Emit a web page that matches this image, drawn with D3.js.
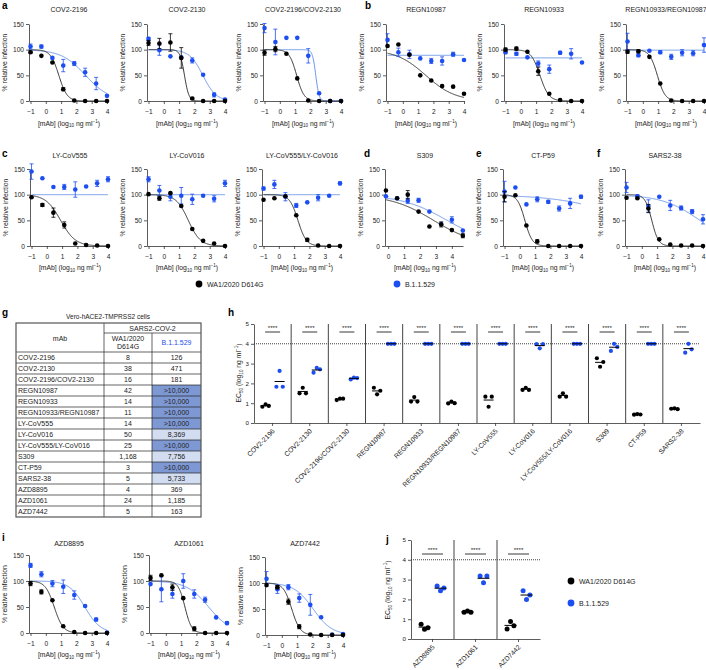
<!DOCTYPE html>
<html><head><meta charset="utf-8">
<script src="https://cdn.jsdelivr.net/npm/d3@7"></script>
<style>body{margin:0;background:#fff}svg{display:block}</style>
</head><body><svg id="c" width="706" height="670"></svg>
<script>
// ---------------- DATA ----------------
const doseX = [-1, -0.29, 0.43, 1.14, 1.86, 2.57, 3.29, 4];
const doseXS309 = [-0.14, 0.56, 1.23, 1.91, 2.59, 3.33, 4.0, 4.69];
const curvePanels = ["COV2-2196","COV2-2130","COV2-2196/COV2-2130","REGN10987","REGN10933","REGN10933/REGN10987",
  "LY-CoV555","LY-CoV016","LY-CoV555/LY-CoV016","S309","CT-P59","SARS2-38","AZD8895","AZD1061","AZD7442"];
const waValues = [
  [95,88,75,23,1,0,0,0],[113,112,114,84,5,0,0,0],[94,101,92,44,1,0,0,0],
  [107,110,90,50,40,29,28,14],[100,102,96,58,14,2,0,0],[96,97,86,34,1,0,0,0],
  [95,80,65,41,5,2,1,0],[101,93,103,78,33,10,5,0],[90,93,97,60,12,1,0,0],
  [108,93,100,67,38,42,31,20],[96,99,40,9,0,0,0,0],[94,93,73,13,3,1,1,0],
  [95,79,63,13,2,0,0,0],[106,111,88,67,8,0,0,0],[96,92,64,16,1,0,0,0]];
const waErrors = [
  [2,0,0,3,0,0,0,0],[5,10,17,20,2,0,0,0],[5,5,0,0,0,0,0,0],
  [0,0,0,0,0,0,0,0],[3,3,0,8,0,0,0,0],[3,3,0,0,0,0,0,0],
  [0,3,9,6,0,0,0,0],[0,4,0,0,0,0,0,0],[0,0,0,0,3,0,0,0],
  [0,0,8,0,0,5,0,4],[10,0,0,3,0,0,0,0],[0,0,8,0,0,0,0,0],
  [4,4,0,0,0,0,0,0],[5,0,6,0,4,0,0,0],[0,3,5,4,0,0,0,0]];
const omValues = [
  [106,106,84,69,73,56,34,10],[121,99,87,85,79,51,12,3],[142,115,123,123,88,15,0,0],
  [119,95,91,83,78,78,91,80],[95,92,85,73,62,94,92,75],[116,89,98,95,86,94,93,109],
  [145,132,115,115,110,116,122,130],[130,108,96,98,91,98,92,122],[112,120,96,79,85,94,98,122],
  [97,93,88,89,67,43,51,30],[106,114,81,91,86,73,83,96],[114,97,78,96,79,74,67,52],
  [130,113,95,89,73,52,26,1],[94,84,75,100,75,64,30,19],[108,88,92,71,58,34,1,2]];
const omErrors = [
  [5,3,0,12,4,8,12,0],[3,10,0,0,5,0,4,0],[9,25,0,0,14,0,0,0],
  [12,8,8,0,5,8,4,0],[3,3,0,5,8,3,10,0],[16,3,0,3,5,6,5,14],
  [15,0,0,5,15,0,6,5],[5,10,8,16,10,0,6,6],[3,8,8,4,0,6,0,3],
  [0,0,5,4,0,0,6,0],[20,0,0,5,3,5,10,3],[10,3,12,0,10,4,4,9],
  [4,5,6,13,8,0,3,0],[0,24,8,14,8,5,0,3],[14,8,5,8,20,0,0,0]];
// fitted curves: [top, bottom, logEC50, hill]
const waFit = [
  [100,0,0.85,1.6],[100,0,1.35,3],[100,0,1.1,1.8],[100,0,1.5,0.45],[100,0,1.25,1.5],[100,0,0.95,1.7],
  [100,0,0.9,0.9],[100,0,1.6,1.1],[100,0,1.25,1.6],[100,0,2.85,0.32],[100,0,0.33,1.8],[100,0,0.65,2],
  [100,0,0.55,1.5],[100,0,1.25,2],[100,0,0.65,1.6]];
const omFit = [
  [100,0,2.6,0.55],[100,0,2.55,1.0],[100,0,2.35,4],[89,89,0,1],[84,84,0,1],[99,99,0,1],
  [100,100,0,1],[100,100,0,1],[100,100,0,1],[100,0,3.7,0.3],[100,0,7.3,0.2],[100,0,3.8,0.35],
  [100,0,2.55,0.85],[100,0,2.8,0.6],[100,0,2.05,0.7]];

const tableMab = ["COV2-2196","COV2-2130","COV2-2196/COV2-2130","REGN10987","REGN10933","REGN10933/REGN10987",
  "LY-CoV555","LY-CoV016","LY-CoV555/LY-CoV016","S309","CT-P59","SARS2-38","AZD8895","AZD1061","AZD7442"];
const tableWA = ["8","38","16","42","14","11","14","50","25","1,168","3","5","4","24","5"];
const tableOM = ["126","471","181",">10,000",">10,000",">10,000",">10,000","8,369",">10,000","7,756",">10,000","5,733","369","1,185","163"];

const ecNamesH = ["COV2-2196","COV2-2130","COV2-2196/COV2-2130","REGN10987","REGN10933","REGN10933/REGN10987",
  "LY-CoV555","LY-CoV016","LY-CoV555/LY-CoV016","S309","CT-P59","SARS2-38"];
const ecWAH = [[0.82,0.94,0.86],[1.5,1.78,1.5],[1.16,1.23,1.23],[1.78,1.45,1.63],[1.08,1.31,1.08],[0.99,1.08,1.0],
  [1.33,0.82,1.33],[1.67,1.78,1.67],[1.33,1.5,1.33],[3.27,2.84,3.08],[0.42,0.45,0.43],[0.72,0.74,0.7]];
const ecOMH = [[1.83,2.63,1.83],[2.54,2.78,2.71],[2.2,2.29,2.27],[4,4,4],[4,4,4],[4,4,4],
  [4,4,4],[3.98,3.77,3.98],[4,4,4],[3.64,4.0,3.84],[4,4,4],[3.55,4.0,3.72]];
const sigH = ["****","****","****","****","****","****","****","****","****","****","****","****"];
const ecNamesJ = ["AZD8895","AZD1061","AZD7442"];
const ecWAJ = [[0.74,0.49,0.57],[1.35,1.41,1.35],[0.5,0.89,0.67]];
const ecOMJ = [[2.68,2.44,2.58],[3.18,2.84,3.18],[2.44,2.0,2.22]];
const sigJ = ["****","****","****"];
const seriesNames = ["WA1/2020 D614G","B.1.1.529"];
const yTicksCurve = [0,50,100,150];
const yTicksEC = [0,1,2,3,4,5];
const ecLimit = 4;

// ---------------- STYLE ----------------
const FONT = "'Liberation Sans', Arial, Helvetica, sans-serif";
const AX = "#333";
const BLACK = "#000";
const BLUE = "#1d4ef2";
const BLUE_LINE = "#5b8be6";
const fmtInt = d3.format("d");
const svg = d3.select("#c").attr("font-family", FONT);

function styleAxis(g, fs) {
  g.attr("font-family", FONT).attr("font-size", fs);
  g.selectAll("path,line").attr("stroke", AX).attr("stroke-width", 0.8);
  g.selectAll("text").attr("fill", "#222");
}
function letter(t, x, y) {
  svg.append("text").attr("x", x).attr("y", y).attr("font-size", 10).attr("font-weight", "bold").text(t);
}
function mabLabel(g, cx, y) {
  const t = g.append("text").attr("x", cx).attr("y", y).attr("text-anchor", "middle").attr("font-size", 6.8).attr("fill", "#222");
  t.append("tspan").text("[mAb] (log");
  t.append("tspan").attr("font-size", 4.6).attr("dy", 1.6).text("10");
  t.append("tspan").attr("dy", -1.6).text(" ng ml");
  t.append("tspan").attr("font-size", 4.6).attr("dy", -2.6).text("\u22121");
  t.append("tspan").attr("dy", 2.6).text(")");
}
function ecLabel(x, cy) {
  const t = svg.append("text").attr("transform", `translate(${x},${cy}) rotate(-90)`).attr("text-anchor", "middle")
    .attr("font-size", 6.8).attr("fill", "#222");
  t.append("tspan").text("EC");
  t.append("tspan").attr("font-size", 4.6).attr("dy", 1.6).text("50");
  t.append("tspan").attr("dy", -1.6).text(" (log");
  t.append("tspan").attr("font-size", 4.6).attr("dy", 1.6).text("10");
  t.append("tspan").attr("dy", -1.6).text(" ng ml");
  t.append("tspan").attr("font-size", 4.6).attr("dy", -2.6).text("\u22121");
  t.append("tspan").attr("dy", 2.6).text(")");
}

// ---------------- CURVE PANELS ----------------
const R1 = {y0: 101, y150: 24, title: 12, axt: 125.5};
const R2 = {y0: 246, y150: 169, title: 158, axt: 270};
const R3 = {y0: 633, y150: 555, title: 546, axt: 657};
const R3b = {y0: 635, y150: 557, title: 546, axt: 657};
const layout = [
  [29,R1],[147,R1],[263,R1],[386,R1],[504,R1],[626,R1],
  [30,R2],[147,R2],[262,R2],[385,R2],[503,R2],[625,R2],
  [29,R3],[149,R3],[265,R3b]];

function logistic(p, v) { return p[1] + (p[0] - p[1]) / (1 + Math.pow(10, (v - p[2]) * p[3])); }

curvePanels.forEach((name, i) => {
  const [px, R] = layout[i];
  const isS = name === "S309";
  const xs = isS ? doseXS309 : doseX;
  const x = d3.scaleLinear().domain(isS ? [-0.2, 4.7] : [-1.1, 4]).range([px, px + 78]);
  const y = d3.scaleLinear().domain([0, 150]).range([R.y0, R.y150]);
  const g = svg.append("g");
  const ya = g.append("g").attr("transform", `translate(${px},0)`)
    .call(d3.axisLeft(y).tickValues(yTicksCurve).tickFormat(fmtInt).tickSize(3).tickSizeOuter(0).tickPadding(2));
  styleAxis(ya, 6.6);
  const xa = g.append("g").attr("transform", `translate(0,${R.y0})`)
    .call(d3.axisBottom(x).tickValues(isS ? [0,1,2,3,4] : [-1,0,1,2,3,4]).tickFormat(fmtInt).tickSize(3).tickSizeOuter(0).tickPadding(5));
  styleAxis(xa, 6.6);
  g.append("text").attr("x", px + 40).attr("y", R.title).attr("text-anchor", "middle").attr("font-size", 7).attr("fill", "#222").text(name);
  mabLabel(g, px + 40, R.axt);
  g.append("text").attr("transform", `translate(${px - 22},${(R.y0 + R.y150) / 2}) rotate(-90)`)
    .attr("text-anchor", "middle").attr("font-size", 6.9).attr("fill", "#222").text("% relative infection");
  const grid = d3.range(0, 201).map(k => xs[0] + (xs[xs.length - 1] - xs[0]) * k / 200);
  const line = p => d3.line().x(v => x(v)).y(v => y(logistic(p, v)))(grid);
  g.append("path").attr("d", line(omFit[i])).attr("fill", "none").attr("stroke", BLUE_LINE).attr("stroke-width", 0.9);
  g.append("path").attr("d", line(waFit[i])).attr("fill", "none").attr("stroke", "#222").attr("stroke-width", 0.9);
  [[omValues[i], omErrors[i], BLUE], [waValues[i], waErrors[i], BLACK]].forEach(([vals, errs, col]) => {
    vals.forEach((v, k) => {
      const e = errs[k];
      if (e > 0) {
        const cx = x(xs[k]);
        g.append("line").attr("x1", cx).attr("x2", cx).attr("y1", y(v - e)).attr("y2", y(v + e)).attr("stroke", col).attr("stroke-width", 0.8);
        [v - e, v + e].forEach(w => g.append("line").attr("x1", cx - 2).attr("x2", cx + 2).attr("y1", y(w)).attr("y2", y(w)).attr("stroke", col).attr("stroke-width", 0.8));
      }
      g.append("circle").attr("cx", x(xs[k])).attr("cy", y(v)).attr("r", 2.3).attr("fill", col);
    });
  });
});

letter("a", 2, 9); letter("b", 365, 9);
letter("c", 2, 157); letter("d", 364, 157); letter("e", 476, 157); letter("f", 597, 157);
letter("g", 2, 316); letter("h", 228, 316); letter("i", 2, 541); letter("j", 386, 543);

// legends
function legendItem(cx, cy, col, label, r) {
  svg.append("circle").attr("cx", cx).attr("cy", cy).attr("r", r).attr("fill", col);
  svg.append("text").attr("x", cx + 8).attr("y", cy + 2.5).attr("font-size", 7).attr("fill", "#222").text(label);
}
legendItem(199, 284, BLACK, seriesNames[0], 3.4);
legendItem(397, 284, BLUE, seriesNames[1], 3.4);
legendItem(571, 581, BLACK, seriesNames[0], 3.4);
legendItem(571, 603, BLUE, seriesNames[1], 3.4);

// ---------------- TABLE ----------------
(function () {
  const tx = [16, 104, 152, 201];
  const top = 323, sub = 333, head = 352, rh = 11;
  const g = svg.append("g").attr("font-size", 7).attr("fill", "#222");
  g.append("text").attr("x", 108).attr("y", 318.5).attr("text-anchor", "middle").attr("font-size", 6.5).text("Vero-hACE2-TMPRSS2 cells");
  tableOM.forEach((v, k) => {
    const num = +v.replace(/[>,]/g, "");
    const fill = v.startsWith(">") ? "#7e98d4" : (num > 5000 ? "#d3ddf1" : null);
    if (fill) g.append("rect").attr("x", tx[2]).attr("y", head + k * rh).attr("width", tx[3] - tx[2]).attr("height", rh).attr("fill", fill);
  });
  const bottom = head + tableMab.length * rh;
  const L = (x1, y1, x2, y2) => g.append("line").attr("x1", x1).attr("y1", y1).attr("x2", x2).attr("y2", y2).attr("stroke", "#222").attr("stroke-width", 0.7);
  L(tx[1], sub, tx[3], sub);
  for (let k = 0; k < tableMab.length; k++) L(tx[0], head + k * rh, tx[3], head + k * rh);
  L(tx[1], top, tx[1], bottom); L(tx[2], sub, tx[2], bottom);
  g.append("rect").attr("x", tx[0]).attr("y", top).attr("width", tx[3] - tx[0]).attr("height", bottom - top)
    .attr("fill", "none").attr("stroke", "#555").attr("stroke-width", 1.2);
  g.append("text").attr("x", (tx[0] + tx[1]) / 2).attr("y", 341).attr("text-anchor", "middle").text("mAb");
  g.append("text").attr("x", (tx[1] + tx[3]) / 2).attr("y", 330.5).attr("text-anchor", "middle").text("SARS2-COV-2");
  g.append("text").attr("x", (tx[1] + tx[2]) / 2).attr("y", 341).attr("text-anchor", "middle").text("WA1/2020");
  g.append("text").attr("x", (tx[1] + tx[2]) / 2).attr("y", 349).attr("text-anchor", "middle").text("D614G");
  g.append("text").attr("x", (tx[2] + tx[3]) / 2).attr("y", 345).attr("text-anchor", "middle").attr("fill", BLUE).text("B.1.1.529");
  tableMab.forEach((m, k) => {
    const yy = head + k * rh + 8;
    g.append("text").attr("x", tx[0] + 2).attr("y", yy).text(m);
    g.append("text").attr("x", (tx[1] + tx[2]) / 2).attr("y", yy).attr("text-anchor", "middle").text(tableWA[k]);
    g.append("text").attr("x", (tx[2] + tx[3]) / 2).attr("y", yy).attr("text-anchor", "middle").text(tableOM[k]);
  });
})();

// ---------------- EC50 PANELS ----------------
function ecPanel(names, wa, om, sig, P) {
  const x = d3.scaleBand().domain(names).range([P.x0, P.x1]);
  const y = d3.scaleLinear().domain([0, 5]).range([P.y0, P.y5]);
  const g = svg.append("g");
  names.slice(1).forEach(n => g.append("line").attr("x1", x(n)).attr("x2", x(n)).attr("y1", y(0)).attr("y2", y(5)).attr("stroke", "#444").attr("stroke-width", 1));
  g.append("line").attr("x1", P.x0).attr("x2", P.x1).attr("y1", y(ecLimit)).attr("y2", y(ecLimit))
    .attr("stroke", "#444").attr("stroke-width", 1.1).attr("stroke-dasharray", "1,1");
  const ya = g.append("g").attr("transform", `translate(${P.x0},0)`).call(d3.axisLeft(y).tickValues(yTicksEC).tickFormat(fmtInt).tickSize(3).tickSizeOuter(0).tickPadding(2));
  styleAxis(ya, 6.2);
  const xa = g.append("g").attr("transform", `translate(0,${P.y0})`).call(d3.axisBottom(x).tickSize(3).tickSizeOuter(0));
  styleAxis(xa, 6.8);
  xa.selectAll("text").attr("text-anchor", "end").attr("x", 0).attr("y", 0).attr("dy", "0.35em")
    .attr("transform", "translate(1,7) rotate(-45)");
  names.forEach((n, k) => {
    const c = x(n) + x.bandwidth() / 2;
    [[wa[k], -P.off, BLACK], [om[k], P.off, BLUE]].forEach(([vals, o, col]) => {
      vals.forEach((v, j) => g.append("circle").attr("cx", c + o + (j - 1) * P.sp).attr("cy", y(v)).attr("r", P.r).attr("fill", col));
      const m = d3.mean(vals);
      g.append("line").attr("x1", c + o - P.ml).attr("x2", c + o + P.ml).attr("y1", y(m)).attr("y2", y(m)).attr("stroke", "#000").attr("stroke-width", 1);
    });
    g.append("line").attr("x1", c - P.sw).attr("x2", c + P.sw).attr("y1", P.sy).attr("y2", P.sy).attr("stroke", "#222").attr("stroke-width", 0.9);
    g.append("text").attr("x", c).attr("y", P.sy - 2.2).attr("text-anchor", "middle").attr("font-size", 6.2).attr("fill", "#222").text(sig[k]);
  });
}
ecPanel(ecNamesH, ecWAH, ecOMH, sigH, {x0: 254, x1: 700, y0: 423, y5: 324, off: 7, sp: 3.2, r: 2.1, ml: 5, sw: 7.5, sy: 332});
ecLabel(241, 373);
ecPanel(ecNamesJ, ecWAJ, ecOMJ, sigJ, {x0: 411, x1: 540, y0: 639, y5: 540, off: 8, sp: 3.4, r: 2.5, ml: 6, sw: 10.5, sy: 554});
ecLabel(390, 590);
</script></body></html>
